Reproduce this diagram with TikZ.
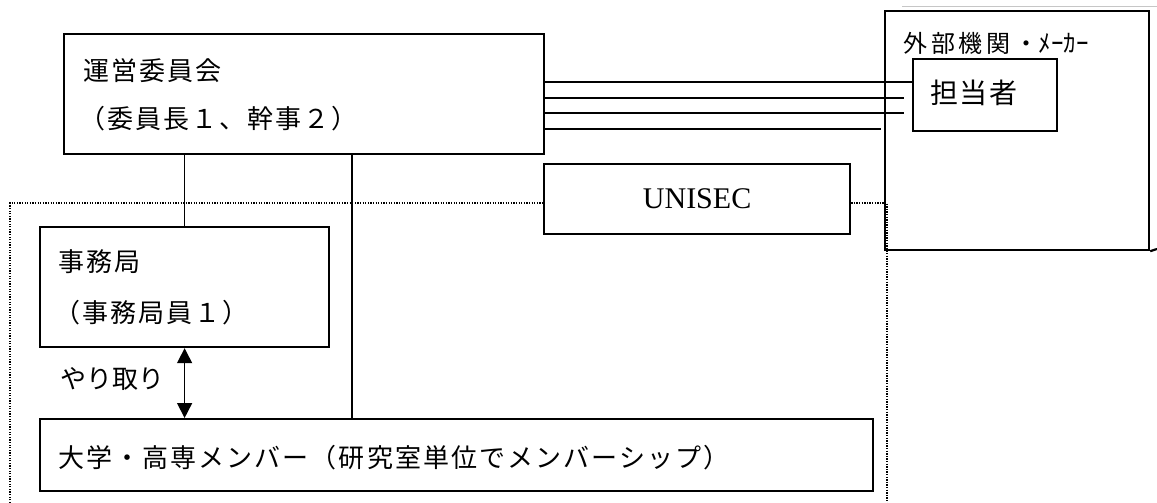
\documentclass[tikz,border=0pt]{standalone}
\usepackage{fontspec}
\setmainfont{Liberation Serif}
\newfontfamily\jpA[LetterSpace=8]{Noto Sans CJK JP}
\newfontfamily\jpB[LetterSpace=16]{Noto Sans CJK JP}
\newfontfamily\jpC[LetterSpace=6]{Noto Sans CJK JP}
\newfontfamily\jpN{Noto Sans CJK JP}
\usetikzlibrary{arrows.meta,calc}
\tikzset{
  boxnode/.style={draw=black,line width=2.2pt,rectangle,inner sep=0pt,anchor=north west},
  lbl/.style={inner sep=0pt,anchor=west,font=\jpA\fontsize{26}{30}\selectfont},
  conn/.style={line width=1.6pt,black},
  frame/.style={line width=2pt,dash pattern=on 1.3pt off 1.3pt,black},
}
\begin{document}
\begin{tikzpicture}[x=1pt,y=-1pt]
\useasboundingbox (0,0) rectangle (1157,503);
% boxes
\node[boxnode,minimum width=480pt,minimum height=120pt] (unei) at (63,33) {};
\node[boxnode,minimum width=264pt,minimum height=239pt] (gaibu) at (884,10) {};
\node[boxnode,minimum width=144pt,minimum height=72pt,fill=white] (tanto) at (912,58) {};
\node[boxnode,minimum width=306pt,minimum height=70pt] (unisec) at (543,163) {};
\node[boxnode,minimum width=289pt,minimum height=120pt] (jimu) at (39,226) {};
\node[boxnode,minimum width=833pt,minimum height=72pt] (daigaku) at (39,418) {};
% extra frame fragments at right
\draw[gray!45,line width=1pt] (902,7) -- (1157,7);
\draw[line width=2.2pt] (gaibu.south east) -- (1157,249);
% labels
\node[lbl] (t1) at (83,71) {運営委員会};
\node[lbl] (t2) at (79,119) {（委員長１、幹事２）};
\node[lbl] (t3) at (58,262) {事務局};
\node[lbl] (t4) at (54,313) {（事務局員１）};
\node[lbl] (t5) at (58,458) {大学・高専メンバー（研究室単位でメンバーシップ）};
\node[lbl,font=\jpN\fontsize{26}{30}\selectfont] (t6) at (60,379) {やり取り};
\node[lbl,font=\jpB\fontsize{24}{28}\selectfont] (t7) at (903,43) {外部機関・{\jpN\fontsize{25}{28}\selectfont ﾒｰｶｰ}};
\node[lbl,font=\jpC\fontsize{28}{30}\selectfont] (t8) at (930,93) {担当者};
\node[inner sep=0pt,font=\fontsize{30}{34}\selectfont] (t9) at (unisec.center) {UNISEC};
% dotted frame
\coordinate (ftop) at (0,203);
\draw[frame] (10,503) -- (10,203) -- (unisec.west |- ftop);
\draw[frame] (unisec.east |- ftop) -- (887,203) -- (887,503);
% connectors
\coordinate (v2) at (352,0);
\draw[conn] (jimu.north |- unei.south) -- (jimu.north);
\draw[conn] (v2 |- unei.south) -- (v2 |- daigaku.north);
\draw[conn,{Triangle[width=15pt,length=15pt]}-{Triangle[width=15pt,length=15pt]}] (jimu.south) -- (jimu.south |- daigaku.north);
\coordinate (h1) at (0,82);
\coordinate (h2) at (0,98);
\coordinate (h3) at (0,113);
\coordinate (h4) at (0,129);
\draw[conn] (unei.east |- h1) -- (tanto.west |- h1);
\draw[conn] (unei.east |- h2) -- ($(tanto.west |- h2)+(-8,0)$);
\draw[conn] (unei.east |- h3) -- ($(tanto.west |- h3)+(-8,0)$);
\draw[conn] (unei.east |- h4) -- ($(gaibu.west |- h4)+(-3,0)$);
\end{tikzpicture}
\end{document}
